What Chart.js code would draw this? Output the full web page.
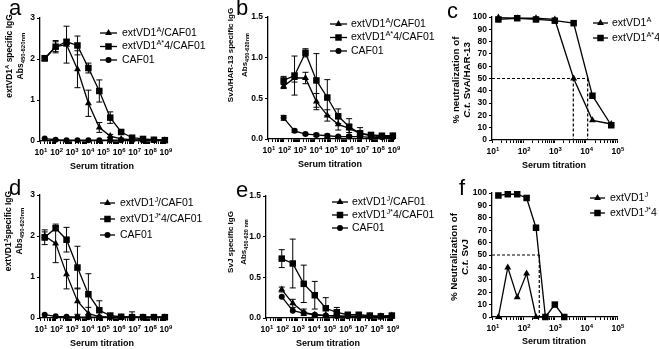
<!DOCTYPE html>
<html lang="en">
<head>
<meta charset="UTF-8">
<title>extVD1 serum titration</title>
<script src="https://cdn.jsdelivr.net/npm/chart.js"></script>
<style>
  body { margin: 0; background: #fff; }
  #wrap { position: relative; width: 659px; height: 349px; overflow: hidden; }
  #wrap canvas { position: absolute; }
</style>
</head>
<body>
<div id="wrap">
  <canvas id="cA"></canvas>
  <canvas id="cB"></canvas>
  <canvas id="cC"></canvas>
  <canvas id="cD"></canvas>
  <canvas id="cE"></canvas>
  <canvas id="cF"></canvas>
</div>
<script>
const FONT = '"Liberation Sans", Arial, sans-serif';

// serum dilutions (x values)
const xAD = [20, 100, 500, 2500, 12500, 62500, 312500, 1562500, 7812500, 39062500, 195312500, 976562500];
const xBE = [100, 500, 2500, 12500, 62500, 312500, 1562500, 7812500, 39062500, 195312500, 976562500];
const xC = [16, 64, 256, 1024, 4096, 16384, 65536];
const xF = [16, 32, 64, 128, 256, 512, 1024, 2048];

// x tick labels: 10 with superscript exponent
const decadeLabels = [
  ['10', ['1', 'sup']], ['10', ['2', 'sup']], ['10', ['3', 'sup']],
  ['10', ['4', 'sup']], ['10', ['5', 'sup']], ['10', ['6', 'sup']],
  ['10', ['7', 'sup']], ['10', ['8', 'sup']], ['10', ['9', 'sup']]
];

// a - extVD1A specific IgG
const aTri = [2.00, 2.30, 2.35, 1.75, 0.92, 0.33, 0.12, 0.05, 0.03, 0.02, 0.02, 0.02];
const aTriErr = [0.05, 0.15, 0.45, 0.45, 0.32, 0.12, 0.04, 0.02, 0.01, 0, 0, 0];
const aSq = [2.02, 2.30, 2.42, 2.33, 1.78, 1.22, 0.57, 0.22, 0.08, 0.05, 0.03, 0.02];
const aSqErr = [0.06, 0.12, 0.05, 0.23, 0.12, 0.27, 0.14, 0.05, 0.03, 0.02, 0.01, 0.01];
const aCir = [0.06, 0.03, 0.02, 0.02, 0.02, 0.02, 0.02, 0.02, 0.02, 0.02, 0.02, 0.02];

// b - SvA/HAR-13 specific IgG
const bTri = [0.65, 0.75, 0.75, 0.46, 0.29, 0.18, 0.13, 0.07, 0.04, 0.03, 0.03];
const bTriErr = [0.03, 0.05, 0.07, 0.10, 0.07, 0.07, 0.05, 0.03, 0.02, 0.01, 0.01];
const bSq = [0.72, 0.78, 1.06, 0.72, 0.51, 0.28, 0.15, 0.07, 0.05, 0.04, 0.04];
const bSqErr = [0.05, 0.24, 0.05, 0.33, 0.22, 0.09, 0.10, 0.07, 0.03, 0.02, 0.03];
const bCir = [0.26, 0.10, 0.06, 0.05, 0.04, 0.03, 0.03, 0.03, 0.02, 0.02, 0.02];
const bCirErr = [0.03, 0.02, 0.01, 0.02, 0.02, 0.01, 0.01, 0.01, 0, 0, 0];

// c - % neutralization SvA/HAR-13
const cTri = [99.5, 99, 99, 98, 50, 16, 13];
const cSq = [98, 99, 98, 97, 95, 36, 12];
const cIC50 = [4000, 11500];

// d - extVD1J specific IgG
const dTri = [2.00, 1.82, 1.07, 0.41, 0.11, 0.03, 0.02, 0.02, 0.02, 0.02, 0.02, 0.02];
const dTriErr = [0.10, 0.47, 0.36, 0.32, 0.15, 0.02, 0.01, 0.01, 0.13, 0.01, 0.01, 0.01];
const dSq = [1.97, 2.19, 1.91, 1.23, 0.58, 0.19, 0.06, 0.03, 0.02, 0.02, 0.02, 0.02];
const dSqErr = [0.18, 0.05, 0.30, 0.52, 0.50, 0.23, 0.04, 0.02, 0.01, 0.01, 0.01, 0.01];
const dCir = [0.08, 0.04, 0.03, 0.02, 0.02, 0.02, 0.02, 0.02, 0.02, 0.02, 0.02, 0.02];

// e - SvJ specific IgG
const eTri = [0.35, 0.18, 0.07, 0.04, 0.03, 0.03, 0.02, 0.02, 0.02, 0.02, 0.03];
const eTriErr = [0.03, 0.05, 0.04, 0.01, 0.01, 0.01, 0, 0, 0, 0, 0];
const eSq = [0.73, 0.67, 0.42, 0.28, 0.12, 0.07, 0.04, 0.04, 0.03, 0.02, 0.03];
const eSqErr = [0.11, 0.30, 0.23, 0.17, 0.13, 0.06, 0.02, 0.02, 0.01, 0.01, 0.02];
const eCir = [0.26, 0.09, 0.06, 0.04, 0.03, 0.02, 0.02, 0.02, 0.02, 0.02, 0.02];

// f - % neutralization SvJ
const fTri = [0, 40, 16, 35, 0, 0, null, null];
const fSq = [98, 99, 99, 96, 72, 0, 10, 0];
const fIC50 = [326];

// legend / title texts (strings = normal, [text, mode] = sup/sub/italic)
const legA = [['extVD1', ['A', 'sup'], '/CAF01'], ['extVD1', ['A*', 'sup'], '4/CAF01'], ['CAF01']];
const legC = [['extVD1', ['A', 'sup']], ['extVD1', ['A*', 'sup'], '4']];
const legD = [['extVD1', ['J', 'sup'], '/CAF01'], ['extVD1', ['J*', 'sup'], '4/CAF01'], ['CAF01']];
const legF = [['extVD1', ['J', 'sup']], ['extVD1', ['J*', 'sup'], '4']];
const absLine = ['Abs', ['450-620nm', 'sub']];

function logTicks(maxExp) {
  const t = [];
  for (let e = 1; e <= maxExp; e++) {
    t.push({ value: Math.pow(10, e), major: true });
    if (e < maxExp) for (let m = 2; m <= 9; m++) t.push({ value: m * Math.pow(10, e), major: false });
  }
  return t;
}

function series(xs, ys, style, r, err) {
  const data = [];
  xs.forEach((x, i) => { if (ys[i] != null) data.push({ x: x, y: ys[i] }); });
  return {
    data: data, err: err, pointStyle: style, pointRadius: r,
    pointBackgroundColor: '#000', pointBorderColor: '#000', pointBorderWidth: 0,
    borderColor: '#000', borderWidth: 1.3, tension: 0, fill: false, clip: false
  };
}

function dashed(pts) {
  return { data: pts, borderColor: '#000', borderWidth: 1.2, borderDash: [3, 2], pointRadius: 0, fill: false, clip: false };
}

function fontFor(mode, size, bold) {
  const s = (mode === 'sup' || mode === 'sub') ? size * 0.7 : size;
  return (mode === 'i' ? 'italic ' : '') + (bold ? 'bold ' : '') + s + 'px ' + FONT;
}

function drawRich(ctx, parts, x, y, size, bold, align) {
  const segs = parts.map(p => typeof p === 'string' ? [p, 'n'] : p);
  let w = 0;
  segs.forEach(s => { ctx.font = fontFor(s[1], size, bold); w += ctx.measureText(s[0]).width; });
  let cx = align === 'center' ? x - w / 2 : x;
  ctx.textAlign = 'left';
  ctx.textBaseline = 'middle';
  segs.forEach(s => {
    ctx.font = fontFor(s[1], size, bold);
    const dy = s[1] === 'sup' ? -size * 0.32 : (s[1] === 'sub' ? size * 0.3 : 0);
    ctx.fillText(s[0], cx, y + dy);
    cx += ctx.measureText(s[0]).width;
  });
}

function marker(ctx, style, x, y, r) {
  ctx.beginPath();
  if (style === 'circle') {
    ctx.arc(x, y, r, 0, Math.PI * 2);
  } else if (style === 'rect') {
    const h = r * Math.SQRT1_2;
    ctx.rect(x - h, y - h, 2 * h, 2 * h);
  } else {
    ctx.moveTo(x, y - r);
    ctx.lineTo(x + r * 0.866, y + r * 0.5);
    ctx.lineTo(x - r * 0.866, y + r * 0.5);
    ctx.closePath();
  }
  ctx.fill();
}

const errorBars = {
  id: 'errorBars',
  beforeDatasetsDraw(chart) {
    const ctx = chart.ctx;
    const x = chart.scales.x, y = chart.scales.y;
    ctx.save();
    ctx.strokeStyle = '#000';
    ctx.lineWidth = 1;
    chart.data.datasets.forEach(ds => {
      if (!ds.err) return;
      ds.data.forEach((p, i) => {
        const e = ds.err[i];
        if (!e) return;
        const px = x.getPixelForValue(p.x);
        const hi = y.getPixelForValue(Math.min(p.y + e, y.max));
        const lo = y.getPixelForValue(Math.max(p.y - e, y.min));
        ctx.beginPath();
        ctx.moveTo(px, lo); ctx.lineTo(px, hi);
        ctx.moveTo(px - 3, hi); ctx.lineTo(px + 3, hi);
        if (p.y - e > y.min) { ctx.moveTo(px - 3, lo); ctx.lineTo(px + 3, lo); }
        ctx.stroke();
      });
    });
    ctx.restore();
  }
};

function textPlugin(o) {
  return {
    id: 'panelText',
    afterDraw(chart) {
      const ctx = chart.ctx;
      const xs = chart.scales.x;
      ctx.save();
      ctx.fillStyle = '#000';
      ctx.strokeStyle = '#000';
      // x tick labels at each decade, placed by the log scale
      for (let e = 1; e <= o.maxExp; e++) {
        const px = xs.getPixelForValue(Math.pow(10, e));
        drawRich(ctx, decadeLabels[e - 1], px + 1, xs.top + 12, 8.5, true, 'center');
      }
      ctx.translate(-o.box.x, -o.box.y);
      // panel letter
      ctx.font = '22px ' + FONT;
      ctx.textAlign = 'left';
      ctx.textBaseline = 'alphabetic';
      ctx.fillText(o.letter[0], o.letter[1], o.letter[2]);
      // y title, two rotated lines
      o.yTitle.lines.forEach((ln, i) => {
        ctx.save();
        ctx.translate(o.yTitle.xs[i], o.yTitle.cy);
        ctx.rotate(-Math.PI / 2);
        drawRich(ctx, ln, 0, 0, o.yTitle.size, true, 'center');
        ctx.restore();
      });
      // x title
      drawRich(ctx, ['Serum titration'], o.xTitle[0], o.xTitle[1], 9, true, 'center');
      // legend
      const lg = o.legend;
      lg.items.forEach((it, i) => {
        const y = lg.rows[i];
        ctx.lineWidth = 1.3;
        ctx.beginPath();
        ctx.moveTo(lg.lx0, y); ctx.lineTo(lg.lx1, y);
        ctx.stroke();
        marker(ctx, lg.styles[i], (lg.lx0 + lg.lx1) / 2, y, lg.radii[i]);
        drawRich(ctx, it, lg.tx, y, 10.5, false, 'left');
      });
      ctx.restore();
    }
  };
}

function panel(id, o) {
  const YW = 24, XH = 28;
  const box = o.box, area = o.area;
  const cv = document.getElementById(id);
  cv.width = box.w; cv.height = box.h;
  cv.style.left = box.x + 'px'; cv.style.top = box.y + 'px';
  const tickFont = { family: FONT, size: 8.5, weight: 'bold' };
  new Chart(cv, {
    type: 'line',
    data: { datasets: o.datasets },
    options: {
      responsive: false,
      animation: false,
      layout: { padding: {
        left: area.l - box.x - YW, top: area.t - box.y,
        right: box.x + box.w - area.r, bottom: box.y + box.h - area.b - XH } },
      plugins: { legend: { display: false }, tooltip: { enabled: false } },
      scales: {
        x: {
          type: 'logarithmic', min: 10, max: Math.pow(10, o.maxExp),
          afterBuildTicks: s => { s.ticks = logTicks(o.maxExp); },
          afterFit: s => { s.height = XH; },
          ticks: { autoSkip: false, maxRotation: 0, minRotation: 0, callback: () => '' },
          grid: { drawOnChartArea: false, color: '#000', tickLength: 3, lineWidth: 1 },
          border: { color: '#000', width: 1.3 }
        },
        y: {
          min: 0, max: o.yMax,
          afterFit: s => { s.width = YW; },
          ticks: { stepSize: o.yStep, autoSkip: false, padding: 2, color: '#000', font: tickFont, callback: o.yFmt },
          grid: { drawOnChartArea: false, color: '#000', tickLength: 3, lineWidth: 1 },
          border: { color: '#000', width: 1.3 }
        }
      }
    },
    plugins: [errorBars, textPlugin(o)]
  });
}

const fmtInt = v => String(v);
const fmt1 = v => v.toFixed(1);

panel('cA', {
  box: { x: 0, y: 0, w: 220, h: 176 }, area: { l: 40, t: 18, r: 165, b: 141 },
  maxExp: 9, yMax: 3, yStep: 1, yFmt: fmtInt,
  datasets: [series(xAD, aTri, 'triangle', 4, aTriErr), series(xAD, aSq, 'rect', 4.6, aSqErr), series(xAD, aCir, 'circle', 3)],
  letter: ['a', 9, 15],
  yTitle: { xs: [10, 21], cy: 56, size: 8.5, lines: [['extVD1', ['A', 'sup'], ' specific IgG'], absLine] },
  xTitle: [102, 167],
  legend: { items: legA, rows: [33, 46.5, 60], lx0: 100, lx1: 117, tx: 122, styles: ['triangle', 'rect', 'circle'], radii: [4, 4.6, 3] }
});

panel('cB', {
  box: { x: 220, y: 0, w: 220, h: 176 }, area: { l: 268, t: 17, r: 393, b: 139 },
  maxExp: 9, yMax: 1.5, yStep: 0.5, yFmt: fmt1,
  datasets: [series(xBE, bTri, 'triangle', 4, bTriErr), series(xBE, bSq, 'rect', 4.6, bSqErr), series(xBE, bCir, 'circle', 3, bCirErr)],
  letter: ['b', 236, 15],
  yTitle: { xs: [231, 245], cy: 55, size: 8, lines: [['SvA/HAR-13 specific IgG'], absLine] },
  xTitle: [330, 165],
  legend: { items: legA, rows: [24, 37.5, 51], lx0: 330, lx1: 347, tx: 351, styles: ['triangle', 'rect', 'circle'], radii: [4, 4.6, 3] }
});

panel('cC', {
  box: { x: 440, y: 0, w: 219, h: 176 }, area: { l: 492, t: 17, r: 617, b: 140 },
  maxExp: 5, yMax: 100, yStep: 10, yFmt: fmtInt,
  datasets: [
    series(xC, cTri, 'triangle', 4), series(xC, cSq, 'rect', 4.6),
    dashed([{ x: 10, y: 50 }, { x: cIC50[1], y: 50 }]),
    dashed([{ x: cIC50[0], y: 50 }, { x: cIC50[0], y: 0 }]),
    dashed([{ x: cIC50[1], y: 50 }, { x: cIC50[1], y: 0 }])
  ],
  letter: ['c', 447, 18],
  yTitle: { xs: [456, 467], cy: 80, size: 9.8, lines: [['% neutralization of'], [['C.t.', 'i'], ' SvA/HAR-13']] },
  xTitle: [554, 166],
  legend: { items: legC, rows: [23, 38], lx0: 593, lx1: 608, tx: 612, styles: ['triangle', 'rect'], radii: [4, 4.6] }
});

panel('cD', {
  box: { x: 0, y: 176, w: 220, h: 173 }, area: { l: 40, t: 195, r: 165, b: 318 },
  maxExp: 9, yMax: 3, yStep: 1, yFmt: fmtInt,
  datasets: [series(xAD, dTri, 'triangle', 4, dTriErr), series(xAD, dSq, 'rect', 4.6, dSqErr), series(xAD, dCir, 'circle', 3)],
  letter: ['d', 9, 195],
  yTitle: { xs: [9, 20], cy: 231, size: 8.5, lines: [['extVD1', ['J', 'sup'], 'specific IgG'], absLine] },
  xTitle: [102, 344],
  legend: { items: legD, rows: [203, 219, 235], lx0: 100, lx1: 115, tx: 120, styles: ['triangle', 'rect', 'circle'], radii: [4, 4.6, 3] }
});

panel('cE', {
  box: { x: 220, y: 176, w: 220, h: 173 }, area: { l: 266, t: 196, r: 392, b: 318 },
  maxExp: 9, yMax: 1.5, yStep: 0.5, yFmt: fmt1,
  datasets: [series(xBE, eTri, 'triangle', 4, eTriErr), series(xBE, eSq, 'rect', 4.6, eSqErr), series(xBE, eCir, 'circle', 3)],
  letter: ['e', 236, 197],
  yTitle: { xs: [231, 244], cy: 242, size: 8, lines: [['SvJ specific IgG'], ['Abs', ['450-620 nm', 'sub']]] },
  xTitle: [328, 344],
  legend: { items: legD, rows: [202, 215, 228], lx0: 332, lx1: 348, tx: 352, styles: ['triangle', 'rect', 'circle'], radii: [4, 4.6, 3] }
});

panel('cF', {
  box: { x: 440, y: 176, w: 219, h: 173 }, area: { l: 492, t: 193, r: 617, b: 317 },
  maxExp: 5, yMax: 100, yStep: 10, yFmt: fmtInt,
  datasets: [
    series(xF, fTri, 'triangle', 4), series(xF, fSq, 'rect', 4.6),
    dashed([{ x: 10, y: 50 }, { x: fIC50[0], y: 50 }]),
    dashed([{ x: fIC50[0], y: 50 }, { x: fIC50[0], y: 0 }])
  ],
  letter: ['f', 459, 195],
  yTitle: { xs: [454, 465], cy: 257, size: 9.8, lines: [['% Neutralization of'], [['C.t.', 'i'], ' SvJ']] },
  xTitle: [554, 342],
  legend: { items: legF, rows: [198, 213], lx0: 590, lx1: 605, tx: 610, styles: ['triangle', 'rect'], radii: [4, 4.6] }
});
</script>
</body>
</html>
